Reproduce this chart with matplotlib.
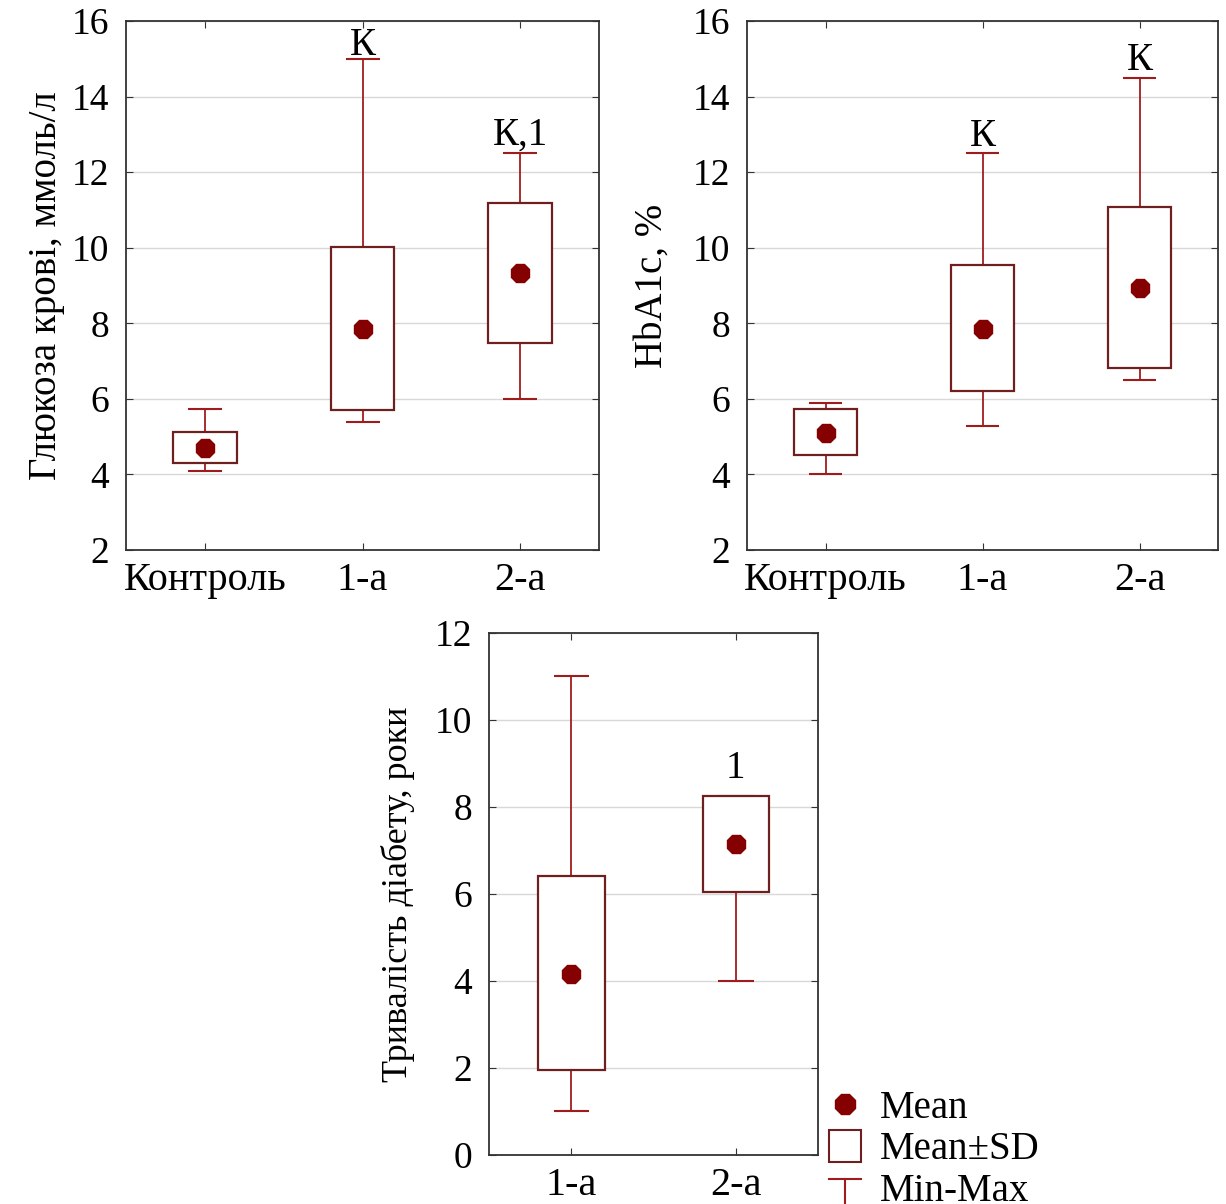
import matplotlib
matplotlib.use('Agg')
import matplotlib.pyplot as plt
from matplotlib.lines import Line2D
from matplotlib.legend_handler import HandlerBase

plt.rcParams['font.family'] = ['Liberation Serif', 'DejaVu Serif']

# Glucose, mmol/l
glu_groups = ['Контроль', '1-а', '2-а']
glu_mean = [4.70, 7.85, 9.32]
glu_sd_lo = [4.30, 5.70, 7.47]
glu_sd_hi = [5.12, 10.02, 11.19]
glu_min = [4.08, 5.40, 6.00]
glu_max = [5.73, 15.00, 12.50]
glu_marks = ['', 'К', 'К,1']

# HbA1c, %
hba_groups = ['Контроль', '1-а', '2-а']
hba_mean = [5.10, 7.85, 8.93]
hba_sd_lo = [4.51, 6.21, 6.81]
hba_sd_hi = [5.73, 9.54, 11.07]
hba_min = [4.00, 5.28, 6.50]
hba_max = [5.89, 12.50, 14.50]
hba_marks = ['', 'К', 'К']

# Diabetes duration, years
dur_groups = ['1-а', '2-а']
dur_mean = [4.15, 7.14]
dur_sd_lo = [1.96, 6.05]
dur_sd_hi = [6.42, 8.25]
dur_min = [1.00, 4.00]
dur_max = [11.00, 8.25]
dur_marks = ['', '1']

BOX_C = '#6e1f1f'
WHISK_C = '#a01c1c'
MEAN_C = '#850000'
FS = 27


def box_panel(ax, groups, mean, lo, hi, vmin, vmax, marks, ylim, yticks, ylabel, mark_at, lab_fs=28):
    x = list(range(len(groups)))
    ax.vlines(x, vmin, lo, color=WHISK_C, lw=1.3, zorder=2)
    ax.vlines(x, hi, vmax, color=WHISK_C, lw=1.3, zorder=2)
    ax.hlines(vmin, [i - 0.108 for i in x], [i + 0.108 for i in x], color=WHISK_C, lw=1.5, zorder=2)
    ax.hlines(vmax, [i - 0.108 for i in x], [i + 0.108 for i in x], color=WHISK_C, lw=1.5, zorder=2)
    ax.bar(x, [h - l for h, l in zip(hi, lo)], bottom=lo, width=0.405,
           facecolor='white', edgecolor=BOX_C, linewidth=1.6, zorder=3)
    ax.plot(x, mean, linestyle='none', marker='8', ms=14.5, color=MEAN_C, zorder=4)
    for i, m in enumerate(marks):
        if m:
            ax.text(i, mark_at[i], m, ha='center', va='baseline', fontsize=28)
    ax.set_xlim(-0.5, len(groups) - 0.5)
    ax.set_ylim(*ylim)
    ax.set_yticks(yticks)
    ax.set_xticks(x)
    ax.set_xticklabels(groups, fontsize=29)
    ax.yaxis.grid(True, color='#d8d8d8', lw=1.0)
    ax.set_axisbelow(True)
    ax.tick_params(direction='in', top=True, right=True, length=5, color='#333333')
    ax.tick_params(axis='y', labelsize=FS, pad=12)
    ax.tick_params(axis='x', pad=9)
    for s in ax.spines.values():
        s.set_color('#333333')
        s.set_linewidth(1.3)
    ax.set_ylabel(ylabel, fontsize=lab_fs)


fig = plt.figure(figsize=(12.26, 12.04), dpi=100)

ax1 = fig.add_axes([0.1028, 0.5432, 0.3858, 0.4394])
box_panel(ax1, glu_groups, glu_mean, glu_sd_lo, glu_sd_hi, glu_min, glu_max, glu_marks,
          (2, 16), range(2, 17, 2), 'Глюкоза крові, ммоль/л', [0, 15.1, 12.72])
ax1.yaxis.set_label_coords(-0.13, 0.5)

ax2 = fig.add_axes([0.6093, 0.5432, 0.3842, 0.4394])
box_panel(ax2, hba_groups, hba_mean, hba_sd_lo, hba_sd_hi, hba_min, hba_max, hba_marks,
          (2, 16), range(2, 17, 2), 'HbA1c, %', [0, 12.69, 14.7])
ax2.yaxis.set_label_coords(-0.162, 0.5)

ax3 = fig.add_axes([0.3989, 0.0407, 0.2684, 0.4336])
box_panel(ax3, dur_groups, dur_mean, dur_sd_lo, dur_sd_hi, dur_min, dur_max, dur_marks,
          (0, 12), range(0, 13, 2), 'Тривалість діабету, роки', [0, 8.67], lab_fs=26)
ax3.yaxis.set_label_coords(-0.225, 0.5)


class HandlerMinMax(HandlerBase):
    def create_artists(self, legend, orig_handle, xdescent, ydescent, width, height,
                       fontsize, trans):
        cx = width / 2 - xdescent
        top = height * 0.8 - ydescent
        bot = -height * 0.6 - ydescent
        cap = Line2D([cx - 11.5, cx + 11.5], [top, top], color=WHISK_C, lw=1.5, transform=trans)
        stem = Line2D([cx, cx], [bot, top], color=WHISK_C, lw=1.5, transform=trans)
        return [cap, stem]


h_mean = Line2D([], [], linestyle='none', marker='8', ms=16, color=MEAN_C)
h_sd = Line2D([], [], linestyle='none', marker='s', ms=23, markerfacecolor='white',
              markeredgecolor=BOX_C, markeredgewidth=1.5)
h_mm = Line2D([], [], color=WHISK_C)
fig.legend([h_mean, h_sd, h_mm], ['Mean', 'Mean±SD', 'Min-Max'],
           handler_map={h_mm: HandlerMinMax()},
           loc='upper left', bbox_to_anchor=(0.672, 0.095), frameon=False,
           fontsize=28, handlelength=1.1, handletextpad=0.35, labelspacing=0.12,
           borderaxespad=0, borderpad=0)

fig.savefig('out.png', dpi=100)
